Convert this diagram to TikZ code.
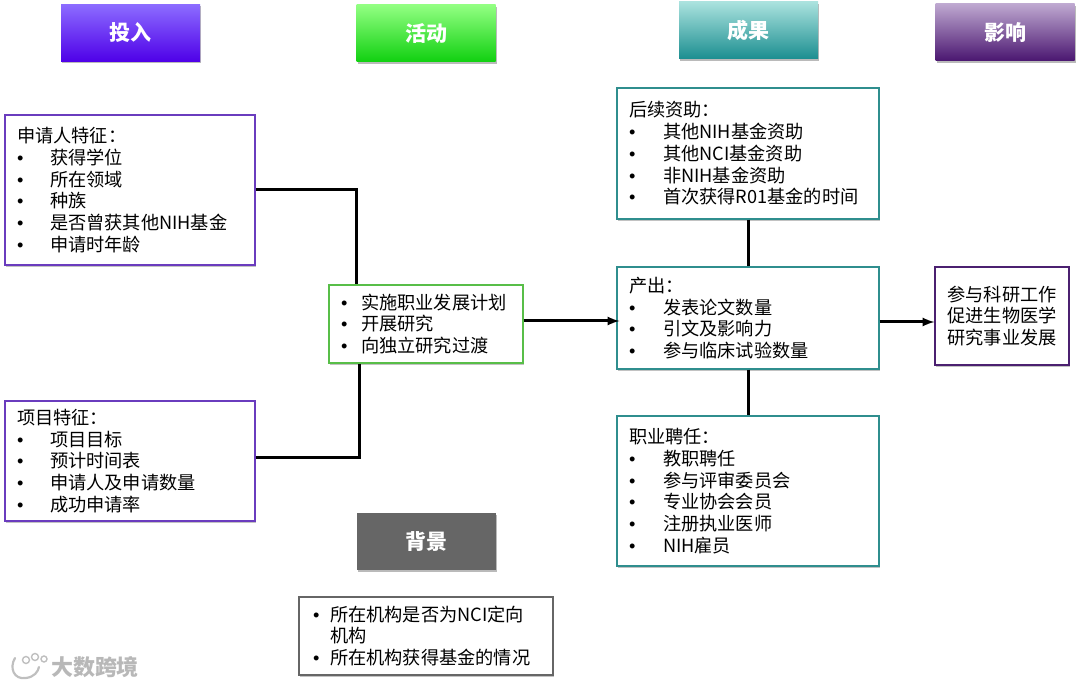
\documentclass[tikz,border=0pt]{standalone}
\usepackage{fontspec}
\setmainfont{Noto Sans CJK SC}
\newfontfamily\bulletfont{Liberation Sans}
\usepackage{tikz}
\usetikzlibrary{arrows,shadows}
\definecolor{inputline}{HTML}{6A3CBE}
\definecolor{activityline}{HTML}{58BE48}
\definecolor{outputline}{HTML}{2F8E8E}
\definecolor{impactline}{HTML}{4B2070}
\tikzset{>=latex, x=1pt, y=-1pt, font=\fontsize{18.2}{21.7}\selectfont}
\tikzstyle{heading} = [minimum width=139pt, minimum height=57pt, inner sep=0pt, text=white, font=\fontsize{21}{21}\selectfont\bfseries, drop shadow={shadow xshift=1pt, shadow yshift=-2pt, fill=black!60, opacity=0.45}]
\tikzstyle{listbox} = [draw, line width=1.1pt, fill=white, rectangle, inner xsep=12pt, inner ysep=0pt, align=left, drop shadow={shadow xshift=1pt, shadow yshift=-2pt, fill=black!60, opacity=0.4}]
\tikzstyle{link} = [line width=3pt]
\tikzstyle{flow} = [-latex, line width=3pt]
\newcommand{\itm}[2][33pt]{\makebox[#1][l]{\bulletfont •}#2}

\begin{document}
\begin{tikzpicture}
		\useasboundingbox (0,0) rectangle (1080,687);

		\node [heading, top color={rgb,255:red,140;green,108;blue,255}, bottom color={rgb,255:red,78;green,0;blue,232}] (input-head) at (130.5,33) {投入};
		\node [heading, top color={rgb,255:red,146;green,255;blue,130}, bottom color={rgb,255:red,16;green,208;blue,16}] (activity-head) at (426,33.5) {活动};
		\node [heading, top color={rgb,255:red,170;green,226;blue,222}, bottom color={rgb,255:red,27;green,142;blue,144}] (output-head) at (748.5,30.5) {成果};
		\node [heading, top color={rgb,255:red,190;green,168;blue,208}, bottom color={rgb,255:red,74;green,22;blue,112}] (impact-head) at (1005,32.5) {影响};
		\node [heading, fill={rgb,255:red,102;green,102;blue,102}] (context-head) at (426,541.5) {背景};

		\node [listbox, draw=inputline, minimum width=250pt, minimum height=150pt, text width=226pt] (applicant) at (130,190) {申请人特征：\\\itm{获得学位}\\\itm{所在领域}\\\itm{种族}\\\itm{是否曾获其他NIH基金}\\\itm{申请时年龄}};
		\node [listbox, draw=inputline, minimum width=250pt, minimum height=120pt, text width=226pt] (project) at (130,461) {项目特征：\\\itm{项目目标}\\\itm{预计时间表}\\\itm{申请人及申请数量}\\\itm{成功申请率}};
		\node [listbox, draw=activityline, minimum width=194pt, minimum height=78pt, text width=170pt] (activity) at (426,324) {\itm[20pt]{实施职业发展计划}\\\itm[20pt]{开展研究}\\\itm[20pt]{向独立研究过渡}};
		\node [listbox, draw=outputline, minimum width=262pt, minimum height=131pt, text width=238pt] (funding) at (748,153.5) {后续资助：\\\itm[34pt]{其他NIH基金资助}\\\itm[34pt]{其他NCI基金资助}\\\itm[34pt]{非NIH基金资助}\\\itm[34pt]{首次获得R01基金的时间}};
		\node [listbox, draw=outputline, minimum width=262pt, minimum height=102pt, text width=238pt] (products) at (748,318) {产出：\\\itm[34pt]{发表论文数量}\\\itm[34pt]{引文及影响力}\\\itm[34pt]{参与临床试验数量}};
		\node [listbox, draw=outputline, minimum width=262pt, minimum height=150pt, text width=238pt] (career) at (748,491) {职业聘任：\\\itm[34pt]{教职聘任}\\\itm[34pt]{参与评审委员会}\\\itm[34pt]{专业协会会员}\\\itm[34pt]{注册执业医师}\\\itm[34pt]{NIH雇员}};
		\node [listbox, draw=impactline, minimum width=134pt, minimum height=98pt, inner xsep=0pt, text width=134pt, align=center] (impact) at (1002,316) {参与科研工作\\促进生物医学\\研究事业发展};
		\node [listbox, draw=black!60, minimum width=254pt, minimum height=78pt, inner xsep=14pt, text width=226pt] (context) at (426,636) {\itm[17pt]{所在机构是否为NCI定向}\\\hspace*{17pt}机构\\\itm[17pt]{所在机构获得基金的情况}};

		\draw [link] (applicant.east |- 0,190) -| ([xshift=-70pt]activity.north);
		\draw [link] (project.east |- 0,457) -| ([xshift=-67pt]activity.south);
		\draw [flow] (activity.east |- 0,321) -- ([xshift=3pt]products.west |- 0,321);
		\draw [link] (funding.south) -- (products.north);
		\draw [link] (products.south) -- (career.north);
		\draw [flow] (products.east |- 0,322) -- (impact.west |- 0,322);

		% watermark
		\node [text=black!28, font=\fontsize{22}{22}\selectfont\bfseries, inner sep=0pt] (mark) at (95,667) {大数跨境};
		\draw [black!25, line width=2.2pt, line cap=round] (15,658) .. controls (9,668) and (14,680) .. (26,678) .. controls (34,677) and (38,672) .. (39,667);
		\draw [black!25, line width=1.4pt] (26,660) circle (3.5) (35,657) circle (3.5) (44,659) circle (3);
\end{tikzpicture}
\end{document}
